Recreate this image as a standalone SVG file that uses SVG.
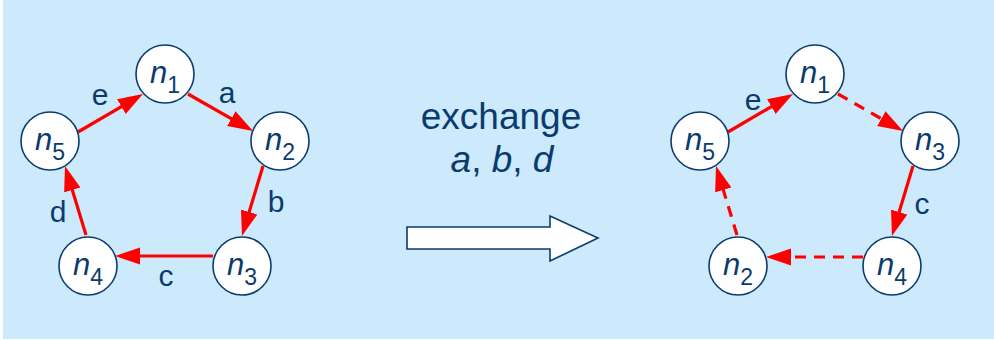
<svg xmlns="http://www.w3.org/2000/svg" width="994" height="340" viewBox="0 0 994 340">
<defs>
<style>
.node{fill:#ffffff;stroke:#0b3b6e;stroke-width:1.6}
.lbl{font-family:"Liberation Sans",Arial,sans-serif;fill:#0b3b6e}
.nl{font-size:31px;font-style:italic;text-anchor:middle}
.sub{font-size:23px;font-style:normal}
.el{font-size:30px;text-anchor:middle}
.edge{stroke:#ff0000;stroke-width:3.2;fill:none;marker-end:url(#ah)}
.dash{stroke-dasharray:11 8}
</style>
<marker id="ah" markerUnits="userSpaceOnUse" markerWidth="26" markerHeight="18" refX="13" refY="8.5" orient="auto">
<path d="M0,0 L25,8.5 L0,17 Z" fill="#ff0000"/>
</marker>
</defs>
<rect x="3" y="0" width="991" height="339" fill="#cceafb"/>

<g id="connectors">
<path class="edge" d="M188,94 L242.6,125.1"/>
<path class="edge" d="M263,166 L245.4,224.5"/>
<path class="edge" d="M213,256 L127,256"/>
<path class="edge" d="M86,235 L68.5,177.5"/>
<path class="edge" d="M78,132 L132.6,100.1"/>

<path class="edge dash" d="M838,94 L892.6,125.1"/>
<path class="edge" d="M913,166 L895.4,224.5"/>
<path class="edge dash" d="M863,257 L778,257"/>
<path class="edge dash" d="M737,235 L719.5,177.5"/>
<path class="edge" d="M728,132 L782.6,100.1"/>
</g>

<g id="edge-labels" class="lbl">
<text class="el" x="227" y="103">a</text>
<text class="el" x="276" y="212">b</text>
<text class="el" x="166" y="286">c</text>
<text class="el" x="58" y="222">d</text>
<text class="el" x="100" y="105">e</text>
<text class="el" x="753" y="110">e</text>
<text class="el" x="922" y="214">c</text>
</g>

<g id="L-n1"><circle class="node" cx="165" cy="74" r="29"/><text class="lbl nl" x="165" y="83">n<tspan class="sub" dy="10">1</tspan></text></g>
<g id="L-n2"><circle class="node" cx="280" cy="141" r="29"/><text class="lbl nl" x="280" y="150">n<tspan class="sub" dy="10">2</tspan></text></g>
<g id="L-n3"><circle class="node" cx="242" cy="266" r="29"/><text class="lbl nl" x="242" y="275">n<tspan class="sub" dy="10">3</tspan></text></g>
<g id="L-n4"><circle class="node" cx="88" cy="266" r="29"/><text class="lbl nl" x="88" y="275">n<tspan class="sub" dy="10">4</tspan></text></g>
<g id="L-n5"><circle class="node" cx="50" cy="141" r="29"/><text class="lbl nl" x="50" y="150">n<tspan class="sub" dy="10">5</tspan></text></g>

<g id="R-n1"><circle class="node" cx="815" cy="74" r="29"/><text class="lbl nl" x="815" y="83">n<tspan class="sub" dy="10">1</tspan></text></g>
<g id="R-n3"><circle class="node" cx="930" cy="141" r="29"/><text class="lbl nl" x="930" y="150">n<tspan class="sub" dy="10">3</tspan></text></g>
<g id="R-n4"><circle class="node" cx="892" cy="266" r="29"/><text class="lbl nl" x="892" y="275">n<tspan class="sub" dy="10">4</tspan></text></g>
<g id="R-n2"><circle class="node" cx="738" cy="266" r="29"/><text class="lbl nl" x="738" y="275">n<tspan class="sub" dy="10">2</tspan></text></g>
<g id="R-n5"><circle class="node" cx="700" cy="141" r="29"/><text class="lbl nl" x="700" y="150">n<tspan class="sub" dy="10">5</tspan></text></g>

<g id="exchange">
<text class="lbl" x="501" y="129" font-size="37" text-anchor="middle">exchange</text>
<text class="lbl" x="502" y="172" font-size="37" text-anchor="middle"><tspan font-style="italic">a</tspan>, <tspan font-style="italic">b</tspan>, <tspan font-style="italic">d</tspan></text>
<path d="M407,227 L550,227 L550,216 L598,238 L550,261 L550,249 L407,249 Z" fill="#ffffff" stroke="#0b3b6e" stroke-width="1.6"/>
</g>
</svg>
